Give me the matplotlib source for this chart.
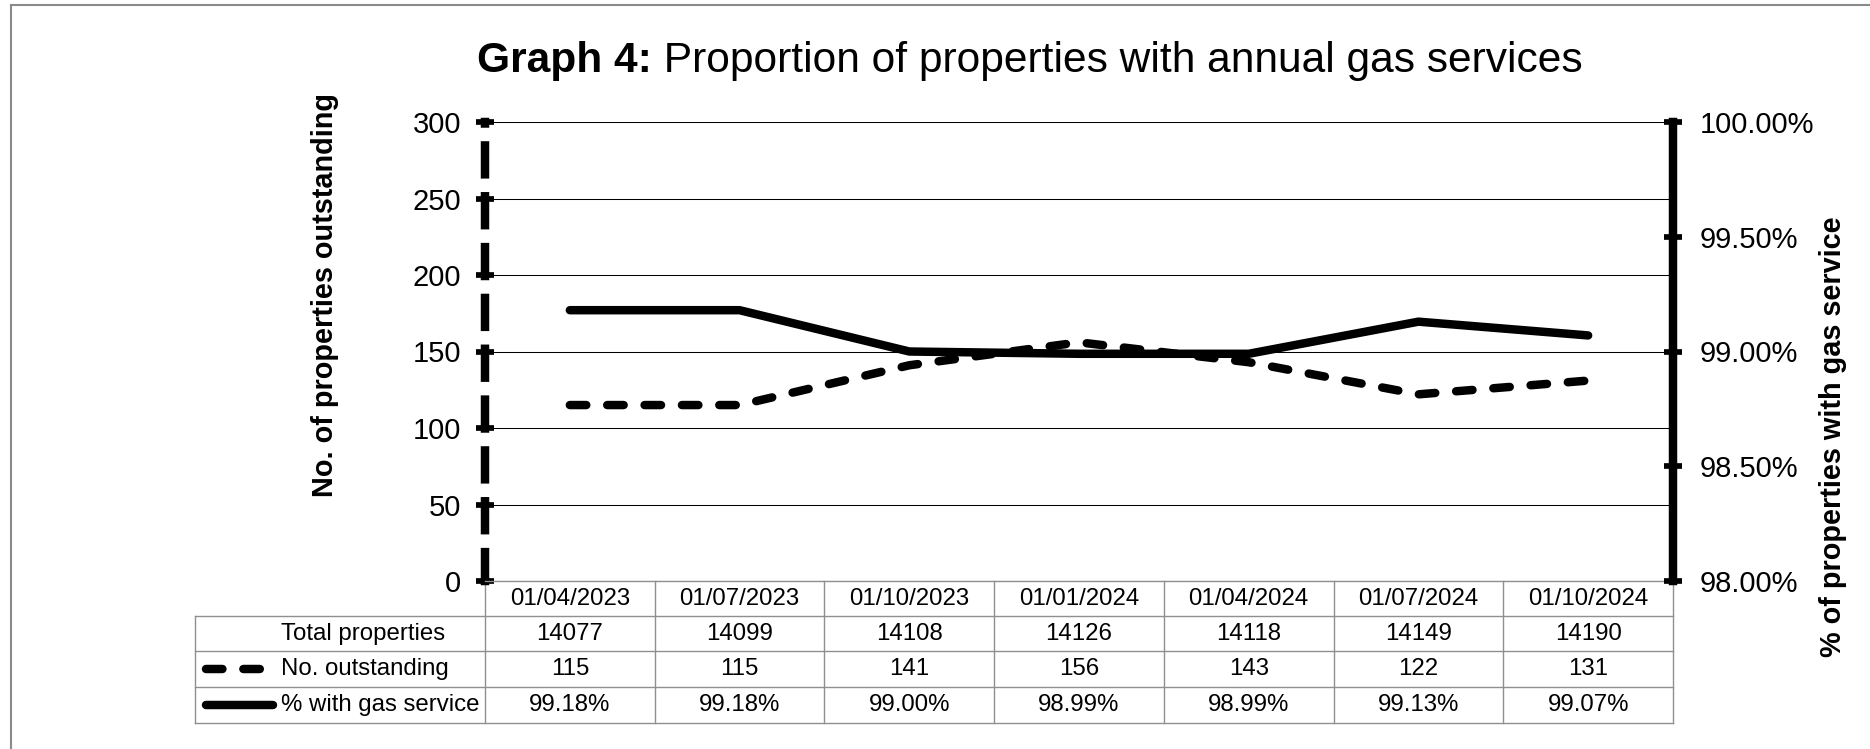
import matplotlib
matplotlib.use("Agg")
import matplotlib.pyplot as plt
from matplotlib.lines import Line2D

plt.rcParams["font.family"] = ["Liberation Sans", "DejaVu Sans"]

# data
dates = ["01/04/2023", "01/07/2023", "01/10/2023", "01/01/2024",
         "01/04/2024", "01/07/2024", "01/10/2024"]
total_properties = [14077, 14099, 14108, 14126, 14118, 14149, 14190]
outstanding = [115, 115, 141, 156, 143, 122, 131]
pct_gas = [99.18, 99.18, 99.00, 98.99, 98.99, 99.13, 99.07]

left_ticks = [0, 50, 100, 150, 200, 250, 300]
right_ticks = [98.0, 98.5, 99.0, 99.5, 100.0]

W, H = 1870, 749
LINE_W = 6.1                     # pt, ~8.5 px
DASH = (0, (1.94, 2.47))         # scaled by linewidth
TABLE_GREY = "#8f8f8f"
TABLE_FS = 17.3


def px_x(x):
    return x / W


def px_y(y):
    return 1 - y / H


fig = plt.figure(figsize=(W / 100, H / 100), dpi=100)

ax_l, ax_r, ax_t, ax_b = 485, 1673, 122, 581
ax = fig.add_axes([px_x(ax_l), px_y(ax_b), (ax_r - ax_l) / W, (ax_b - ax_t) / H])
ax2 = ax.twinx()

x = list(range(len(dates)))

ax.plot(x, outstanding, color="black", lw=LINE_W, linestyle=DASH,
        dash_capstyle="round", solid_capstyle="round", zorder=3)
ax2.plot(x, pct_gas, color="black", lw=LINE_W, solid_capstyle="round", zorder=3)

ax.set_xlim(-0.5, len(dates) - 0.5)
ax.set_ylim(0, 300)
ax2.set_ylim(98, 100)
ax.set_xticks([])
ax.set_yticks(left_ticks)
ax2.set_yticks(right_ticks)
ax2.set_yticklabels([f"{v:.2f}%" for v in right_ticks])

ax.yaxis.grid(True, color="black", lw=0.75)
ax.set_axisbelow(True)

for s in ["top", "right"]:
    ax.spines[s].set_visible(False)
for s in ["top", "left", "bottom"]:
    ax2.spines[s].set_visible(False)
ax.spines["bottom"].set_color(TABLE_GREY)
ax.spines["bottom"].set_linewidth(1.0)
ax.spines["left"].set_linewidth(LINE_W)
ax.spines["left"].set_linestyle((0, (3.41, 2.59)))
ax2.spines["right"].set_linewidth(LINE_W)

ax.tick_params(axis="y", direction="inout", length=12.7, width=4.1,
               pad=11, labelsize=21, color="black")
ax2.tick_params(axis="y", direction="inout", length=12.7, width=4.1,
                pad=13, labelsize=21, color="black")

# data table under the plot
xt = ax.get_xaxis_transform()
rows_y = [0, -0.0763, -0.1525, -0.2309, -0.3094]
label_left = (195 - ax_l) / (ax_r - ax_l)
ncol = len(dates)
line_kw = dict(color=TABLE_GREY, lw=1.0, transform=ax.transAxes, clip_on=False)

for y in rows_y[1:]:
    ax.plot([label_left, 1], [y, y], **line_kw)
for k in range(ncol + 1):
    ax.plot([k / ncol, k / ncol], [0, rows_y[-1]], **line_kw)
ax.plot([label_left, label_left], [rows_y[1], rows_y[-1]], **line_kw)

centres = [(rows_y[i] + rows_y[i + 1]) / 2 for i in range(4)]
row_values = [dates, [str(v) for v in total_properties],
              [str(v) for v in outstanding], [f"{v:.2f}%" for v in pct_gas]]
for r, vals in enumerate(row_values):
    for i, v in enumerate(vals):
        ax.text(i, centres[r], v, transform=xt, ha="center", va="center",
                fontsize=TABLE_FS)

text_left = (281 - ax_l) / (ax_r - ax_l)
row_labels = ["Total properties", "No. outstanding", "% with gas service"]
for r, lab in enumerate(row_labels):
    ax.text(text_left, centres[r + 1], lab, transform=ax.transAxes,
            ha="left", va="center", fontsize=TABLE_FS)

# legend keys inside the row-label cells
k0 = (206 - ax_l) / (ax_r - ax_l)
ax.add_line(Line2D([k0, (262 - ax_l) / (ax_r - ax_l)], [centres[2]] * 2,
                   color="black", lw=LINE_W, linestyle=DASH,
                   dash_capstyle="round", transform=ax.transAxes, clip_on=False))
ax.add_line(Line2D([k0, (273 - ax_l) / (ax_r - ax_l)], [centres[3]] * 2,
                   color="black", lw=LINE_W, solid_capstyle="round",
                   transform=ax.transAxes, clip_on=False))

# axis titles
fig.text(px_x(325), px_y(295), "No. of properties outstanding", rotation=90,
         ha="center", va="center", fontsize=20.8, fontweight="bold")
fig.text(px_x(1833), px_y(437), "% of properties with gas service", rotation=90,
         ha="center", va="center", fontsize=20.8, fontweight="bold")

# title: bold prefix followed by regular text
renderer = fig.canvas.get_renderer()
t1 = fig.text(px_x(477), px_y(72), "Graph 4:", fontsize=30.6,
              fontweight="bold", ha="left", va="baseline")
bb = t1.get_window_extent(renderer)
fig.text(bb.x1 / W, px_y(72), " Proportion of properties with annual gas services",
         fontsize=30.6, ha="left", va="baseline")

# outer frame
fig.add_artist(Line2D([px_x(11), px_x(11)], [0, px_y(5)], color="#8a8a8a", lw=1.5))
fig.add_artist(Line2D([px_x(11), 1], [px_y(5), px_y(5)], color="#8a8a8a", lw=1.5))

fig.savefig("out.png", dpi=100)
